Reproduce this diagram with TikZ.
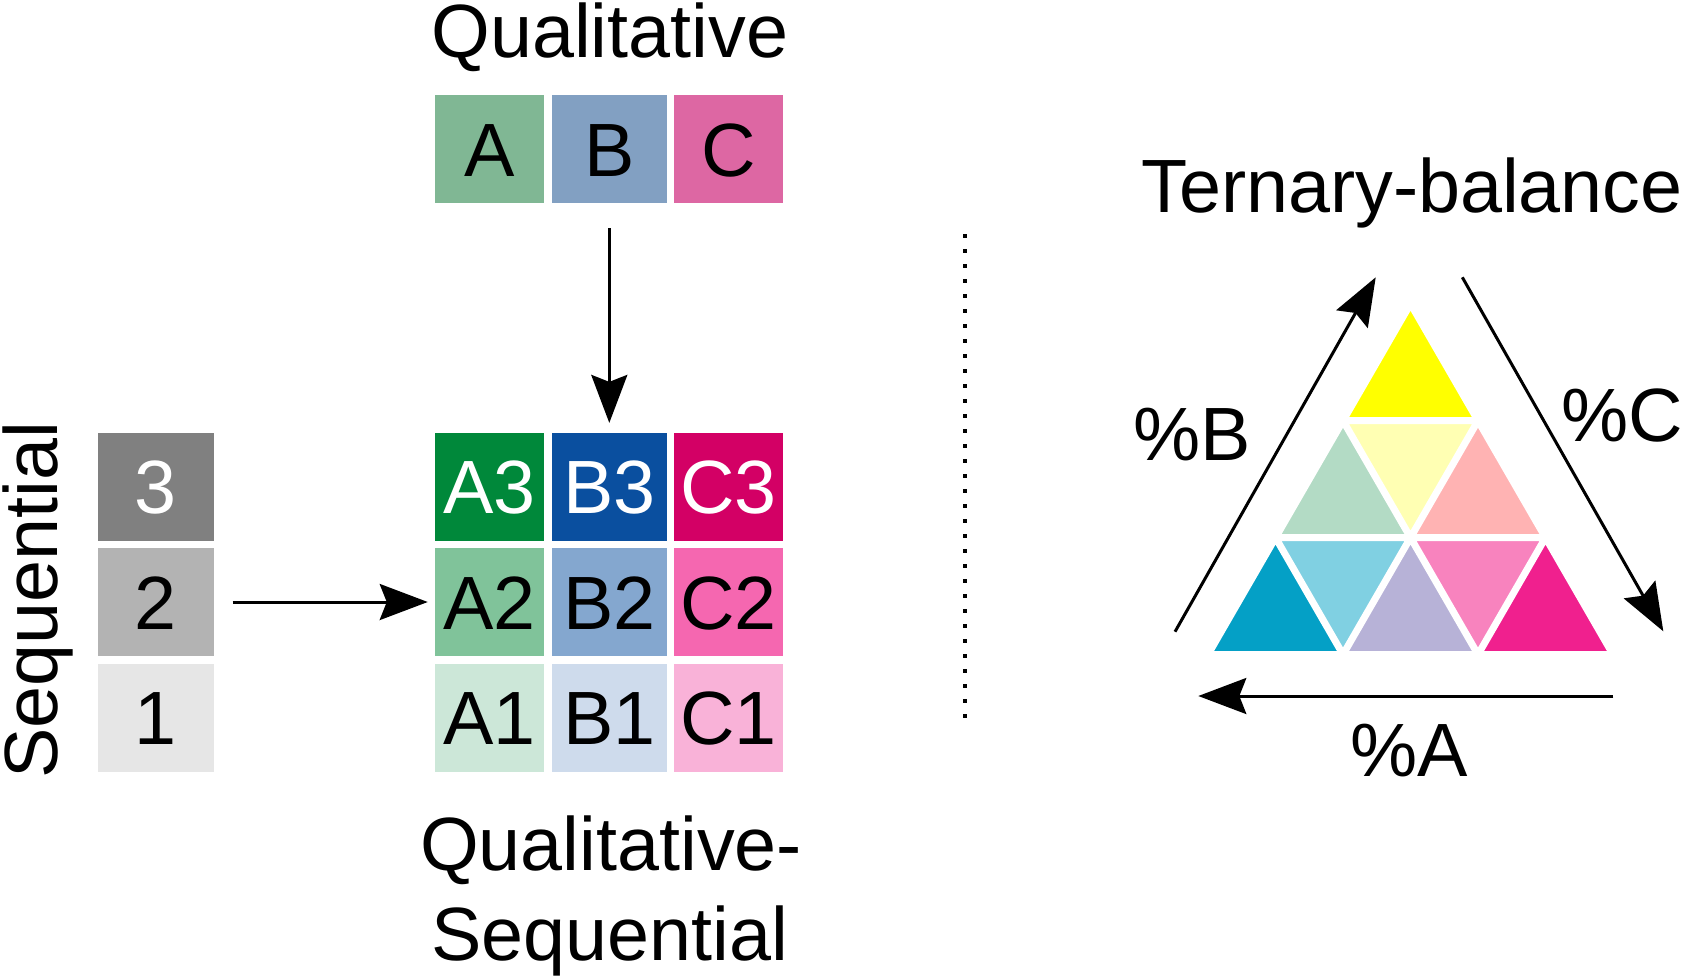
\documentclass[tikz,border=0pt]{standalone}
\usepackage{fontspec}
\setmainfont{Liberation Sans}
\usetikzlibrary{arrows.meta}
\definecolor{qA}{HTML}{80B794}
\definecolor{qB}{HTML}{82A0C2}
\definecolor{qC}{HTML}{DD67A3}
\definecolor{cA3}{HTML}{00883A}
\definecolor{cB3}{HTML}{0A4F9F}
\definecolor{cC3}{HTML}{D30065}
\definecolor{cA2}{HTML}{80C39A}
\definecolor{cB2}{HTML}{84A7CF}
\definecolor{cC2}{HTML}{F567B0}
\definecolor{cA1}{HTML}{CCE7D8}
\definecolor{cB1}{HTML}{CEDBEC}
\definecolor{cC1}{HTML}{F9B2D8}
\definecolor{g3}{HTML}{808080}
\definecolor{g2}{HTML}{B3B3B3}
\definecolor{g1}{HTML}{E6E6E6}
\definecolor{tCy}{HTML}{04A0C6}
\definecolor{tLCy}{HTML}{80D0E2}
\definecolor{tLav}{HTML}{B7B2D7}
\definecolor{tPink}{HTML}{F883BE}
\definecolor{tMag}{HTML}{F0208E}
\definecolor{tPG}{HTML}{B3DBC5}
\definecolor{tPY}{HTML}{FFFFB3}
\definecolor{tSal}{HTML}{FFB3B3}
\definecolor{tYel}{HTML}{FFFF00}
\begin{document}
\begin{tikzpicture}[x=1pt,y=-1pt,
  bigfont/.style={font=\fontsize{75.5}{90}\selectfont},
  box/.style={bigfont, minimum width=108.7pt, minimum height=108pt, inner sep=0pt, outer sep=0pt, text height=54pt, text depth=0pt},
  wbox/.style={box, minimum width=115.5pt},
  lbl/.style={bigfont, inner sep=0pt, anchor=base},
  arr/.style={line width=3pt, -{Stealth[length=48pt,width=36pt,inset=7pt]}},
  gap/.style={white, line width=7pt, line cap=round, line join=round},
]
\useasboundingbox (0,0) rectangle (1685,979);

% Qualitative
\node[lbl] (tq) at (609.8,58) {Qualitative};
\node[box, fill=qA] (qa) at (489.7,149.3) {A};
\node[wbox, fill=qB] (qb) at (609.3,149.3) {B};
\node[box, fill=qC] (qc) at (728.3,149.3) {C};

% grid
\node[box, fill=cA3, text=white] (A3) at (489.7,486.5) {A3};
\node[wbox, fill=cB3, text=white] (B3) at (609.3,486.5) {B3};
\node[box, fill=cC3, text=white] (C3) at (728.3,486.5) {C3};
\node[box, fill=cA2] (A2) at (489.7,602) {A2};
\node[wbox, fill=cB2] (B2) at (609.3,602) {B2};
\node[box, fill=cC2] (C2) at (728.3,602) {C2};
\node[box, fill=cA1] (A1) at (489.7,717.7) {A1};
\node[wbox, fill=cB1] (B1) at (609.3,717.7) {B1};
\node[box, fill=cC1] (C1) at (728.3,717.7) {C1};

% sequential
\node[wbox, fill=g3, text=white] (s3) at (155.8,486.5) {3};
\node[wbox, fill=g2] (s2) at (155.8,602) {2};
\node[wbox, fill=g1] (s1) at (155.8,717.7) {1};
\node[lbl, rotate=90] (ts) at (57.5,600) {Sequential};

\node[lbl] (tqs1) at (611,870) {Qualitative-};
\node[lbl] (tqs2) at (610,960) {Sequential};

\draw[arr] ([yshift=-25pt]qb.south) -- ([yshift=9.6pt]B3.north);
\draw[arr] ([xshift=19pt]s2.east) -- ([xshift=-7.6pt]A2.west);

% dotted separator
\coordinate (d1) at (965,234);
\coordinate (d2) at (965,723);
\draw[line width=4pt, dash pattern=on 4pt off 11pt] (d1) -- (d2);

% ternary
\node[lbl] (tt) at (1412,212) {Ternary-balance};
\foreach \i in {0,...,3}{
  \foreach \j in {0,...,3}{
    \coordinate (p\i\j) at ({1208+135*\i+67.5*\j},{654.5-116.913*\j});
  }
}
\fill[tCy]  (p00) -- (p10) -- (p01) -- cycle;
\fill[tLav] (p10) -- (p20) -- (p11) -- cycle;
\fill[tMag] (p20) -- (p30) -- (p21) -- cycle;
\fill[tLCy] (p10) -- (p01) -- (p11) -- cycle;
\fill[tPink](p20) -- (p11) -- (p21) -- cycle;
\fill[tPG]  (p01) -- (p11) -- (p02) -- cycle;
\fill[tSal] (p11) -- (p21) -- (p12) -- cycle;
\fill[tPY]  (p11) -- (p02) -- (p12) -- cycle;
\fill[tYel] (p02) -- (p12) -- (p03) -- cycle;
\draw[gap] (p00) -- (p30) (p01) -- (p21) (p02) -- (p12)
           (p00) -- (p03) (p10) -- (p12) (p20) -- (p21)
           (p10) -- (p01) (p20) -- (p02) (p30) -- (p03);

\coordinate (bS) at (1175,631.7);
\coordinate (bE) at (1375.7,277.3);
\coordinate (cS) at (1462.3,277.3);
\coordinate (cE) at (1663.3,631.3);
\coordinate (aS) at (1613.3,696);
\coordinate (aE) at (1198.3,696);
\draw[arr] (bS) -- (bE);
\draw[arr] (cS) -- (cE);
\draw[arr] (aS) -- (aE);
\node[lbl] (pb) at (1192,460) {\%B};
\node[lbl] (pc) at (1622,441) {\%C};
\node[lbl] (pa) at (1409.5,776) {\%A};
\end{tikzpicture}
\end{document}
